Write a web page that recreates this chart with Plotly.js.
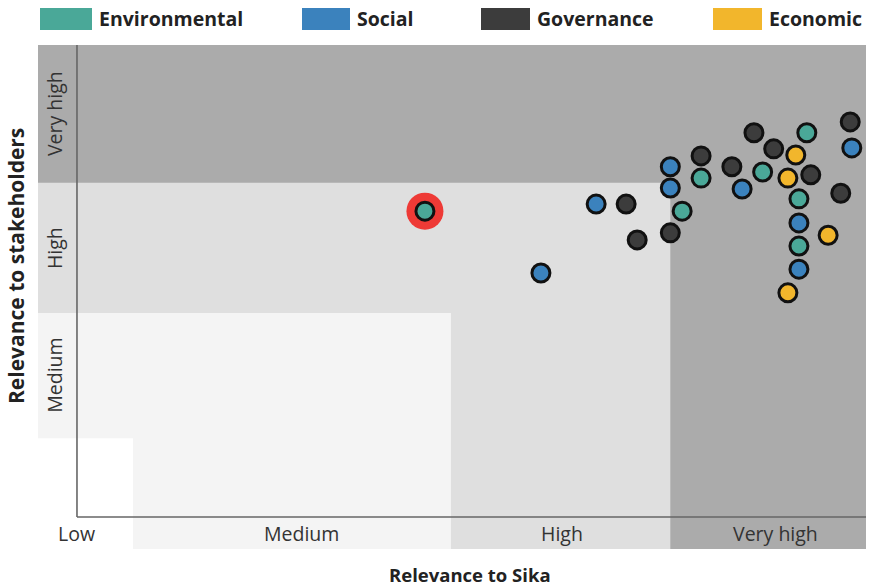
<!DOCTYPE html>
<html>
<head>
<meta charset="utf-8">
<script src="https://cdn.plot.ly/plotly-3.0.1.min.js"></script>
<style>html,body{margin:0;padding:0;background:#fff;}#chart{width:869px;height:588px;}</style>
</head>
<body>
<div id="chart"></div>
<script>
// ---- data ----
const categories = ['Environmental', 'Social', 'Governance', 'Economic'];
const envX = [4.41, 7.67, 7.91, 8.69, 9.25, 9.15, 9.15];
const envY = [6.48, 6.48, 7.18, 7.31, 8.14, 6.74, 5.74];
const socX = [5.88, 6.58, 7.52, 7.52, 8.43, 9.82, 9.15, 9.15];
const socY = [5.17, 6.63, 7.42, 6.97, 6.95, 7.82, 6.23, 5.25];
const govX = [6.96, 7.10, 7.52, 7.91, 8.30, 8.58, 8.83, 9.30, 9.68, 9.80];
const govY = [6.63, 5.87, 6.02, 7.65, 7.42, 8.14, 7.80, 7.25, 6.86, 8.37];
const ecoX = [9.11, 9.01, 9.52, 9.01];
const ecoY = [7.67, 7.18, 5.97, 4.75];
const highlightX = [4.41];
const highlightY = [6.48];
const levelLabels = ['Low', 'Medium', 'High', 'Very high'];
// start of Medium, High, Very high bands on each axis
const xLevelStarts = [0.71, 4.74, 7.52];
const yLevelStarts = [1.67, 4.32, 7.08];

// ---- styles ----
const catColors = ['#4aa898', '#3b82bd', '#3c3c3c', '#f2b62c'];
const levelColors = ['#f4f4f4', '#dfdfdf', '#ababab'];
const XMIN = -0.494, XMAX = 10, YMIN = -0.678, YMAX = 10;

const seriesX = [envX, socX, govX, ecoX];
const seriesY = [envY, socY, govY, ecoY];

const traces = [];
traces.push({
  x: highlightX, y: highlightY, type: 'scatter', mode: 'markers',
  marker: {size: 37, color: '#ee3a36', line: {width: 0}},
  showlegend: false, hoverinfo: 'skip'
});
categories.forEach((c, i) => {
  traces.push({
    x: seriesX[i], y: seriesY[i], name: c, type: 'scatter', mode: 'markers',
    marker: {size: 18, color: catColors[i], line: {width: 3, color: '#111'}},
    showlegend: false
  });
});

const shapes = [];
// level shading: each level covers points where x-level or y-level reaches it
for (let L = 0; L < 3; L++) {
  shapes.push({type: 'rect', layer: 'below', xref: 'x', yref: 'y',
    x0: xLevelStarts[L], x1: XMAX, y0: YMIN, y1: YMAX,
    fillcolor: levelColors[L], line: {width: 0}});
  shapes.push({type: 'rect', layer: 'below', xref: 'x', yref: 'y',
    x0: XMIN, x1: XMAX, y0: yLevelStarts[L], y1: YMAX,
    fillcolor: levelColors[L], line: {width: 0}});
}
// axis lines
shapes.push({type: 'line', layer: 'below', xref: 'x', yref: 'y', x0: 0, x1: 0, y0: 0, y1: YMAX,
  line: {color: '#666', width: 1.6}});
shapes.push({type: 'line', layer: 'below', xref: 'x', yref: 'y', x0: 0, x1: XMAX, y0: 0, y1: 0,
  line: {color: '#666', width: 1.6}});

const annotations = [];
// level labels
const xLabelPos = [-0.01, 2.84, 6.15, 8.85];
const yEdgesAll = [0].concat(yLevelStarts).concat([YMAX]);
levelLabels.forEach((t, i) => {
  annotations.push({xref: 'x', yref: 'y', x: xLabelPos[i], y: YMIN / 2, text: t,
    showarrow: false, font: {family: 'Open Sans', size: 19.5, color: '#333'},
    xanchor: 'center', yanchor: 'middle'});
  if (i > 0) {
    annotations.push({xref: 'x', yref: 'y', x: XMIN / 2 - 0.03, y: (yEdgesAll[i] + yEdgesAll[i + 1]) / 2,
      text: t, textangle: -90, showarrow: false,
      font: {family: 'Open Sans', size: 19.5, color: '#333'},
      xanchor: 'center', yanchor: 'middle'});
  }
});
// axis titles
annotations.push({xref: 'paper', yref: 'paper', x: (470 - 38) / 828, y: (549 - 574) / 504,
  text: '<b>Relevance to Sika</b>', showarrow: false,
  font: {family: 'Open Sans', size: 18.5, color: '#222'}, xanchor: 'center', yanchor: 'middle'});
annotations.push({xref: 'paper', yref: 'paper', x: (16 - 38) / 828, y: (549 - 266) / 504,
  text: '<b>Relevance to stakeholders</b>', textangle: -90, showarrow: false,
  font: {family: 'Open Sans', size: 21, color: '#222'}, xanchor: 'center', yanchor: 'middle'});

// legend (drawn)
const legBoxLeft = [40, 302, 481, 713];
const legBoxW = [52, 48, 49, 49];
categories.forEach((c, i) => {
  const x0 = (legBoxLeft[i] - 38) / 828, x1 = (legBoxLeft[i] + legBoxW[i] - 38) / 828;
  shapes.push({type: 'rect', xref: 'paper', yref: 'paper', x0: x0, x1: x1,
    y0: (549 - 30) / 504, y1: (549 - 8) / 504, fillcolor: catColors[i], line: {width: 0}});
  annotations.push({xref: 'paper', yref: 'paper', x: x1 + 5 / 828, y: (549 - 19) / 504,
    text: '<b>' + c + '</b>', showarrow: false, xanchor: 'left', yanchor: 'middle',
    font: {family: 'Open Sans', size: 19.5, color: '#222'}});
});

const layout = {
  width: 869, height: 588,
  margin: {l: 38, r: 3, t: 45, b: 39},
  paper_bgcolor: '#fff', plot_bgcolor: '#fff',
  xaxis: {range: [XMIN, XMAX], showgrid: false, zeroline: false, showticklabels: false, ticks: '', showline: false, fixedrange: true},
  yaxis: {range: [YMIN, YMAX], showgrid: false, zeroline: false, showticklabels: false, ticks: '', showline: false, fixedrange: true},
  shapes: shapes, annotations: annotations, showlegend: false, hovermode: 'closest'
};
Plotly.newPlot('chart', traces, layout, {displayModeBar: false, responsive: false});
</script>
</body>
</html>
